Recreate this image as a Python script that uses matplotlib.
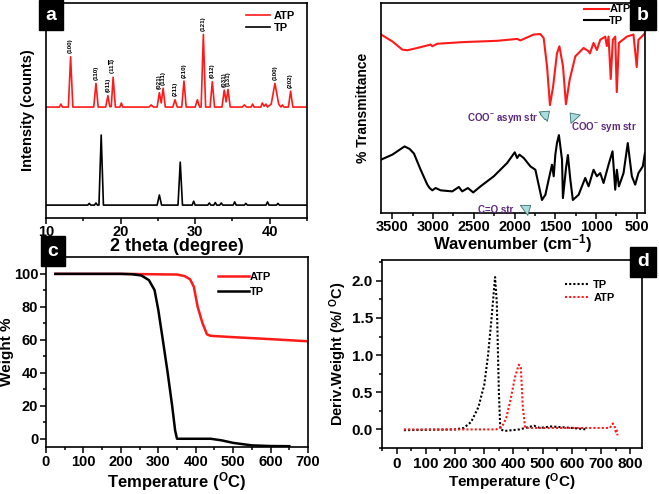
import numpy as np
import matplotlib
matplotlib.use("Agg")
import matplotlib.pyplot as plt
from matplotlib.ticker import MultipleLocator

plt.rcParams['font.family'] = ['Liberation Sans', 'DejaVu Sans']
plt.rcParams['font.weight'] = 'bold'
plt.rcParams['axes.labelweight'] = 'bold'
plt.rcParams['mathtext.fontset'] = 'custom'
plt.rcParams['mathtext.rm'] = 'Liberation Sans:bold'
plt.rcParams['mathtext.bf'] = 'Liberation Sans:bold'
plt.rcParams['mathtext.default'] = 'bf'

# ---- (a) XRD ----
xrd_atp_x = [10, 11.8, 12.0, 12.2, 13.0, 13.3, 13.6, 14.5, 16.4, 16.7, 17.0, 18.0, 18.3, 18.55,
             18.75, 19.0, 19.3, 19.9, 20.1, 20.3, 23.8, 24.1, 24.4, 24.9, 25.2, 25.45, 25.7, 26.0,
             27.0, 27.3, 27.6, 28.2, 28.5, 28.8, 30.0, 30.3, 30.6, 30.8, 31.1, 31.4, 32.0, 32.3,
             32.6, 33.6, 33.9, 34.15, 34.4, 34.7, 36.3, 36.6, 36.9, 37.5, 37.7, 37.9, 38.8, 39.0,
             39.25, 39.5, 39.7, 40.2, 40.7, 41.2, 41.5, 41.7, 41.9, 42.5, 42.8, 43.1, 44.0, 45]
xrd_atp_y = [51.6, 51.6, 53.0, 51.6, 51.6, 75.0, 51.6, 51.6, 51.6, 62.6, 51.6, 51.6, 56.9, 51.8,
             51.8, 65.5, 51.6, 51.6, 53.5, 51.6, 51.6, 52.6, 51.6, 51.6, 58.3, 53.5, 60.4, 51.6,
             51.6, 55.0, 51.6, 51.6, 63.7, 51.6, 51.6, 55.0, 51.6, 51.6, 85.4, 51.6, 51.6, 63.4,
             51.6, 51.6, 59.5, 54.0, 59.8, 51.6, 51.6, 52.6, 51.6, 51.6, 53.0, 51.6, 51.6, 53.5,
             52.0, 53.0, 51.6, 53.0, 62.6, 53.0, 51.6, 52.6, 51.6, 51.6, 59.0, 51.6, 51.6, 51.6]
xrd_tp_x = [10, 15.6, 15.8, 16.0, 16.5, 16.7, 16.9, 17.1, 17.4, 17.7, 24.9, 25.2, 25.5, 27.7,
            28.0, 28.3, 29.6, 29.8, 30.0, 31.7, 31.9, 32.1, 32.5, 32.7, 32.9, 33.3, 33.5, 33.7,
            35.1, 35.3, 35.5, 36.6, 36.8, 37.0, 39.5, 39.7, 39.9, 40.9, 41.1, 41.3, 45]
xrd_tp_y = [6.0, 6.0, 6.8, 6.0, 6.0, 7.0, 6.0, 6.0, 38.6, 6.0, 6.0, 10.7, 6.0, 6.0,
            26.0, 6.0, 6.0, 7.8, 6.0, 6.0, 7.0, 6.0, 6.0, 7.2, 6.0, 6.0, 7.0, 6.0,
            6.0, 7.5, 6.0, 6.0, 6.8, 6.0, 6.0, 7.5, 6.0, 6.0, 6.8, 6.0, 6.0]
hkl_pos = [13.3, 16.7, 18.3, 19.0, 25.2, 25.7, 27.3, 28.5, 31.1, 32.3, 33.9, 34.4, 40.7, 42.8]
hkl_top = [75.0, 62.6, 56.9, 65.5, 58.3, 60.4, 55.0, 63.7, 85.4, 63.4, 59.5, 59.8, 62.6, 59.0]
hkl_text = ['(100)', '(110)', '(011)', r'(11$\overline{1}$)', '(021)', '(111)', '(211)', '(210)',
            '(121)', '(012)', '(031)', '(131)', '(100)', '(202)']

# ---- (b) FTIR ----
ir_atp_w = [3640, 3500, 3378, 3316, 3194, 3031, 3010, 2949, 2622, 2214, 1969, 1929, 1765, 1684,
            1643, 1602, 1566, 1528, 1480, 1450, 1406, 1370, 1324, 1255, 1153, 1092, 1076, 1031,
            990, 949, 888, 868, 847, 820, 794, 765, 746, 720, 622, 541, 501, 480, 439, 400]
ir_atp_t = [85.0, 81.7, 77.8, 77.5, 78.6, 80.2, 79.4, 80.6, 81.4, 82.0, 82.9, 82.2, 85.0, 85.2,
            83.3, 69.8, 51.4, 60.0, 76.0, 79.4, 69.8, 51.8, 63.5, 74.6, 78.6, 77.0, 76.0, 81.0,
            77.6, 82.5, 84.0, 79.5, 84.0, 63.8, 82.5, 84.0, 57.6, 81.0, 84.0, 85.0, 69.5, 82.5,
            84.0, 85.7]
ir_tp_w = [3640, 3500, 3378, 3350, 3288, 3235, 3153, 3071, 3043, 3010, 2969, 2908, 2765, 2684,
           2643, 2573, 2508, 2418, 2255, 2092, 1998, 1969, 1941, 1888, 1806, 1745, 1664, 1622,
           1582, 1541, 1520, 1500, 1480, 1456, 1418, 1407, 1369, 1346, 1316, 1285, 1214, 1133,
           1092, 1031, 990, 949, 908, 847, 798, 765, 745, 720, 663, 611, 561, 520, 480, 427, 400]
ir_tp_t = [25.4, 27.8, 31.0, 31.7, 30.5, 28.3, 20.6, 13.5, 11.9, 10.8, 11.9, 10.8, 10.3, 12.4,
           10.3, 11.9, 9.8, 12.7, 17.5, 23.8, 28.9, 26.2, 27.8, 26.2, 22.2, 20.6, 6.2, 8.7,
           15.9, 23.0, 17.5, 27.8, 33.3, 37.1, 25.4, 7.1, 21.4, 27.6, 15.9, 6.2, 8.7, 16.7,
           12.7, 20.6, 17.5, 19.0, 14.3, 23.0, 29.4, 11.1, 20.6, 12.7, 19.0, 33.3, 17.5, 13.5,
           19.0, 22.2, 28.6]

# ---- (c) TGA ----
tga_atp_t = [25, 200, 350, 370, 385, 395, 405, 418, 430, 440, 500, 600, 700]
tga_atp_w = [99.8, 99.8, 99.4, 98.5, 96.5, 92.0, 80.0, 70.0, 63.2, 62.3, 61.5, 60.3, 59.0]
tga_tp_t = [25, 200, 230, 255, 275, 290, 300, 312, 325, 337, 345, 350, 440, 470, 500, 550, 600, 650]
tga_tp_w = [99.8, 99.8, 99.6, 98.8, 96.0, 90.0, 78.0, 60.0, 40.0, 20.0, 5.0, 0.0, 0.0, -1.0,
            -2.5, -4.0, -4.4, -4.5]

# ---- (d) DTG ----
dtg_tp_t = [25, 200, 230, 255, 280, 300, 313, 325, 337, 343, 350, 355, 370, 420, 450, 470, 490,
            530, 600, 650]
dtg_tp_d = [-0.01, 0.0, 0.02, 0.1, 0.3, 0.6, 1.0, 1.5, 2.05, 1.7, 0.5, 0.0, -0.02, 0.0, 0.03,
            0.05, 0.02, 0.04, 0.02, 0.0]
dtg_atp_t = [25, 340, 360, 375, 390, 405, 418, 425, 432, 440, 600, 730, 740, 746, 750, 753, 756]
dtg_atp_d = [0.0, 0.0, 0.03, 0.15, 0.4, 0.7, 0.87, 0.85, 0.3, 0.02, 0.02, 0.02, 0.08, 0.05,
             -0.03, 0.0, -0.08]

red = '#ff1a1a'
fig = plt.figure(figsize=(6.59, 4.94), dpi=100)
ax_a = fig.add_axes([0.0698, 0.5587, 0.3961, 0.4352])
ax_b = fig.add_axes([0.5781, 0.5688, 0.4006, 0.4251])
ax_c = fig.add_axes([0.0698, 0.0951, 0.3976, 0.3846])
ax_d = fig.add_axes([0.5797, 0.0931, 0.3945, 0.3806])

for ax, ts, pad in ((ax_a, 10.5, 1), (ax_b, 10.5, 1), (ax_c, 10.5, 1.5), (ax_d, 11, 2.5)):
    for s in ax.spines.values():
        s.set_linewidth(1.2)
    ax.tick_params(which='both', direction='out', width=1.1, labelsize=ts, pad=pad)
    ax.tick_params(which='major', length=4)
    ax.tick_params(which='minor', length=2.5)

# (a)
ax_a.plot(xrd_atp_x, xrd_atp_y, color=red, lw=1.2, label='ATP')
ax_a.plot(xrd_tp_x, xrd_tp_y, color='black', lw=1.2, label='TP')
for p, h, t in zip(hkl_pos, hkl_top, hkl_text):
    ax_a.annotate(t, (p, h), xytext=(0, 2.5), textcoords='offset points', rotation=90,
                  ha='center', va='bottom', fontsize=4.5, fontweight='bold')
ax_a.set_xlim(10, 45)
ax_a.set_ylim(0, 100)
ax_a.set_yticks([])
ax_a.xaxis.set_major_locator(MultipleLocator(10))
ax_a.xaxis.set_minor_locator(MultipleLocator(5))
ax_a.set_xlabel('2 theta (degree)', fontsize=13, labelpad=-1)
ax_a.set_ylabel('Intensity (counts)', fontsize=10.5, labelpad=8)
ax_a.legend(loc='upper left', bbox_to_anchor=(0.735, 1.0), frameon=False, fontsize=8,
            handlelength=2.2, handletextpad=0.3, labelspacing=0.2, borderaxespad=0.3)

# (b)
ax_b.plot(ir_atp_w, ir_atp_t, color=red, lw=1.5, label='ATP')
ax_b.plot(ir_tp_w, ir_tp_t, color='black', lw=1.5, label='TP')
ax_b.set_xlim(3640, 400)
ax_b.set_ylim(0, 100)
ax_b.set_yticks([])
ax_b.xaxis.set_major_locator(MultipleLocator(500))
ax_b.xaxis.set_minor_locator(MultipleLocator(250))
ax_b.set_xlabel('Wavenumber (cm$^{-1}$)', fontsize=12, labelpad=-1)
ax_b.set_ylabel('% Transmittance', fontsize=10, labelpad=8)
ax_b.legend(loc='upper left', bbox_to_anchor=(0.745, 1.025), frameon=False, fontsize=8,
            handlelength=2.2, handletextpad=0.05, labelspacing=0.1, borderaxespad=0.2)
purple = '#5c2a7e'
ax_b.text(2141, 45.2, 'COO$^{-}$ asym str', color=purple, fontsize=7, ha='center', va='center')
ax_b.text(905, 41.0, 'COO$^{-}$ sym str', color=purple, fontsize=7, ha='center', va='center')
ax_b.text(2227, 1.6, 'C=O str', color=purple, fontsize=7, ha='center', va='center')
arr = dict(arrowstyle='simple,head_width=0.9,head_length=0.6,tail_width=0.5',
           fc='#a9dcdc', ec='#3d6f70', lw=0.6, mutation_scale=10)
ax_b.annotate('', xy=(1546, 49.4), xytext=(1680, 44.8), arrowprops=arr)
ax_b.annotate('', xy=(1342, 48.6), xytext=(1235, 44.0), arrowprops=arr)
ax_b.annotate('', xy=(1774, 4.4), xytext=(1900, 0.8), arrowprops=arr)

# (c)
ax_c.plot(tga_atp_t, tga_atp_w, color=red, lw=1.8, label='ATP')
ax_c.plot(tga_tp_t, tga_tp_w, color='black', lw=1.8, label='TP')
ax_c.set_xlim(0, 700)
ax_c.set_ylim(-5, 110)
ax_c.set_yticks([0, 20, 40, 60, 80, 100])
ax_c.xaxis.set_major_locator(MultipleLocator(100))
ax_c.xaxis.set_minor_locator(MultipleLocator(50))
ax_c.yaxis.set_minor_locator(MultipleLocator(10))
ax_c.set_xlabel('Temperature ($^{O}$C)', fontsize=12, labelpad=1)
ax_c.set_ylabel('Weight %', fontsize=11, labelpad=0)
ax_c.legend(loc='upper left', bbox_to_anchor=(0.63, 0.955), frameon=False, fontsize=8,
            handlelength=2.8, handletextpad=0.1, labelspacing=0.4, borderaxespad=0.2)

# (d)
ax_d.plot(dtg_tp_t, dtg_tp_d, color='black', lw=1.5, ls=(0, (1, 1)), label='TP')
ax_d.plot(dtg_atp_t, dtg_atp_d, color=red, lw=1.5, ls=(0, (1, 1)), label='ATP')
ax_d.set_xlim(-50, 840)
ax_d.set_ylim(-0.25, 2.28)
ax_d.set_yticks([0.0, 0.5, 1.0, 1.5, 2.0])
ax_d.set_xticks(range(0, 900, 100))
ax_d.xaxis.set_minor_locator(MultipleLocator(50))
ax_d.yaxis.set_minor_locator(MultipleLocator(0.25))
ax_d.set_xlabel('Temperature ($^{O}$C)', fontsize=11, labelpad=0)
ax_d.set_ylabel('Deriv.Weight (%/ $^{O}$C)', fontsize=10.5, labelpad=2)
ax_d.legend(loc='upper left', bbox_to_anchor=(0.68, 0.93), frameon=False, fontsize=8,
            handlelength=2.2, handletextpad=0.3, labelspacing=0.3, borderaxespad=0.2)

for ax in (ax_a, ax_b, ax_c, ax_d):
    for lab in ax.get_xticklabels() + ax.get_yticklabels():
        lab.set_fontweight('bold')

# panel letters
box = dict(boxstyle='square,pad=0.35', fc='black', ec='black')
fig.text(51 / 659, 1 - 15 / 494, 'a', color='white', fontsize=14, ha='center', va='center', bbox=box)
fig.text(643 / 659, 1 - 15 / 494, 'b', color='white', fontsize=14, ha='center', va='center', bbox=box)
fig.text(53 / 659, 1 - 251 / 494, 'c', color='white', fontsize=14, ha='center', va='center', bbox=box)
fig.text(643 / 659, 1 - 262 / 494, 'd', color='white', fontsize=14, ha='center', va='center', bbox=box)

fig.savefig('out.png', dpi=100)
